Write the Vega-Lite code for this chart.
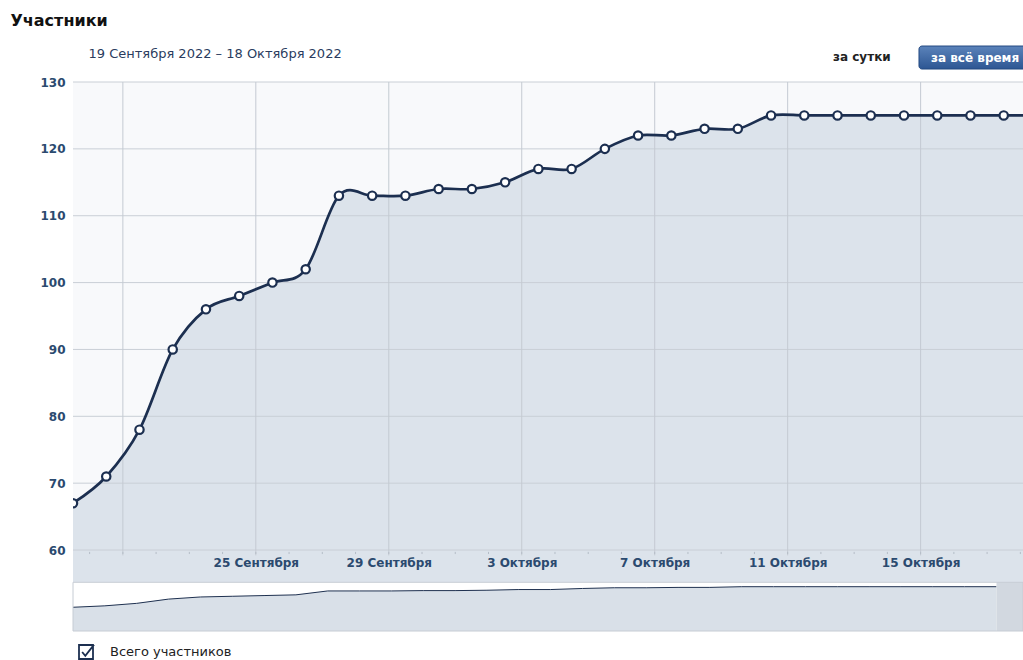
{
  "$schema": "https://vega.github.io/schema/vega-lite/v6.json",
  "width": 950,
  "height": 549,
  "autosize": {"type": "none"},
  "padding": {"left": 73, "top": 82, "right": 0, "bottom": 29},
  "background": "#ffffff",
  "config": {"view": {"stroke": null}, "font": "DejaVu Sans"},
  "datasets": {
    "members": [
      {"date": "2022-09-19T12:00:00", "value": 67},
      {"date": "2022-09-20T12:00:00", "value": 71},
      {"date": "2022-09-21T12:00:00", "value": 78},
      {"date": "2022-09-22T12:00:00", "value": 90},
      {"date": "2022-09-23T12:00:00", "value": 96},
      {"date": "2022-09-24T12:00:00", "value": 98},
      {"date": "2022-09-25T12:00:00", "value": 100},
      {"date": "2022-09-26T12:00:00", "value": 102},
      {"date": "2022-09-27T12:00:00", "value": 113},
      {"date": "2022-09-28T12:00:00", "value": 113},
      {"date": "2022-09-29T12:00:00", "value": 113},
      {"date": "2022-09-30T12:00:00", "value": 114},
      {"date": "2022-10-01T12:00:00", "value": 114},
      {"date": "2022-10-02T12:00:00", "value": 115},
      {"date": "2022-10-03T12:00:00", "value": 117},
      {"date": "2022-10-04T12:00:00", "value": 117},
      {"date": "2022-10-05T12:00:00", "value": 120},
      {"date": "2022-10-06T12:00:00", "value": 122},
      {"date": "2022-10-07T12:00:00", "value": 122},
      {"date": "2022-10-08T12:00:00", "value": 123},
      {"date": "2022-10-09T12:00:00", "value": 123},
      {"date": "2022-10-10T12:00:00", "value": 125},
      {"date": "2022-10-11T12:00:00", "value": 125},
      {"date": "2022-10-12T12:00:00", "value": 125},
      {"date": "2022-10-13T12:00:00", "value": 125},
      {"date": "2022-10-14T12:00:00", "value": 125},
      {"date": "2022-10-15T12:00:00", "value": 125},
      {"date": "2022-10-16T12:00:00", "value": 125},
      {"date": "2022-10-17T12:00:00", "value": 125},
      {"date": "2022-10-18T12:00:00", "value": 125}
    ],
    "majorTicks": [
      {"date": "2022-09-21T00:00:00"},
      {"date": "2022-09-25T00:00:00"},
      {"date": "2022-09-29T00:00:00"},
      {"date": "2022-10-03T00:00:00"},
      {"date": "2022-10-07T00:00:00"},
      {"date": "2022-10-11T00:00:00"},
      {"date": "2022-10-15T00:00:00"}
    ],
    "days": [
      {"date": "2022-09-20T00:00:00"}, {"date": "2022-09-21T00:00:00"}, {"date": "2022-09-22T00:00:00"},
      {"date": "2022-09-23T00:00:00"}, {"date": "2022-09-24T00:00:00"}, {"date": "2022-09-25T00:00:00"},
      {"date": "2022-09-26T00:00:00"}, {"date": "2022-09-27T00:00:00"}, {"date": "2022-09-28T00:00:00"},
      {"date": "2022-09-29T00:00:00"}, {"date": "2022-09-30T00:00:00"}, {"date": "2022-10-01T00:00:00"},
      {"date": "2022-10-02T00:00:00"}, {"date": "2022-10-03T00:00:00"}, {"date": "2022-10-04T00:00:00"},
      {"date": "2022-10-05T00:00:00"}, {"date": "2022-10-06T00:00:00"}, {"date": "2022-10-07T00:00:00"},
      {"date": "2022-10-08T00:00:00"}, {"date": "2022-10-09T00:00:00"}, {"date": "2022-10-10T00:00:00"},
      {"date": "2022-10-11T00:00:00"}, {"date": "2022-10-12T00:00:00"}, {"date": "2022-10-13T00:00:00"},
      {"date": "2022-10-14T00:00:00"}, {"date": "2022-10-15T00:00:00"}, {"date": "2022-10-16T00:00:00"},
      {"date": "2022-10-17T00:00:00"}, {"date": "2022-10-18T00:00:00"}
    ],
    "levels": [
      {"level": 60}, {"level": 70}, {"level": 80}, {"level": 90},
      {"level": 100}, {"level": 110}, {"level": 120}, {"level": 130}
    ]
  },
  "layer": [
    {
      "layer": [
        {
          "data": {"values": [{}]},
          "mark": {"type": "rect", "fill": "#f8f9fb"},
          "encoding": {
            "x": {"datum": {"year": 2022, "month": 9, "date": 19, "hours": 12}, "type": "temporal",
              "scale": {"domain": [{"year": 2022, "month": 9, "date": 19, "hours": 12}, {"year": 2022, "month": 10, "date": 18, "hours": 1, "minutes": 55}], "nice": false},
              "axis": {"orient": "bottom", "offset": -81, "zindex": 1, "values": [{"year": 2022, "month": 9, "date": 25}, {"year": 2022, "month": 9, "date": 29}, {"year": 2022, "month": 10, "date": 3}, {"year": 2022, "month": 10, "date": 7}, {"year": 2022, "month": 10, "date": 11}, {"year": 2022, "month": 10, "date": 15}], "labelExpr": "date(datum.value) + (month(datum.value) == 8 ? ' Сентября' : ' Октября')", "ticks": false, "domain": false, "grid": false, "title": null, "labelPadding": 7, "labelFont": "DejaVu Sans", "labelFontSize": 12, "labelFontWeight": "bold", "labelColor": "#2b4a6f", "labelOverlap": false, "labelFlush": false, "labelBound": false}},
            "x2": {"datum": {"year": 2022, "month": 10, "date": 18, "hours": 1, "minutes": 55}},
            "y": {"datum": 130, "type": "quantitative",
              "scale": {"domain": [47.89, 130], "nice": false, "zero": false},
              "axis": {"values": [60, 70, 80, 90, 100, 110, 120, 130], "ticks": false, "domain": false, "grid": false, "labelPadding": 8, "labelFont": "DejaVu Sans", "labelFontSize": 12, "labelFontWeight": "bold", "labelColor": "#2b4a6f", "title": "Участники", "titleAngle": 0, "titleAlign": "left", "titleBaseline": "alphabetic", "titleX": -63, "titleY": -57, "titleFont": "DejaVu Sans", "titleFontSize": 16, "titleFontWeight": "bold", "titleColor": "#111111"}},
            "y2": {"datum": 60}
          }
        },
        {
          "data": {"name": "members"},
          "mark": {"type": "area", "fill": "#dce3eb", "interpolate": "cardinal", "clip": true},
          "encoding": {
            "x": {"field": "date", "type": "temporal",
              "scale": {"domain": [{"year": 2022, "month": 9, "date": 19, "hours": 12}, {"year": 2022, "month": 10, "date": 18, "hours": 1, "minutes": 55}], "nice": false},
              "axis": {"orient": "bottom", "offset": -81, "zindex": 1, "values": [{"year": 2022, "month": 9, "date": 25}, {"year": 2022, "month": 9, "date": 29}, {"year": 2022, "month": 10, "date": 3}, {"year": 2022, "month": 10, "date": 7}, {"year": 2022, "month": 10, "date": 11}, {"year": 2022, "month": 10, "date": 15}], "labelExpr": "date(datum.value) + (month(datum.value) == 8 ? ' Сентября' : ' Октября')", "ticks": false, "domain": false, "grid": false, "title": null, "labelPadding": 7, "labelFont": "DejaVu Sans", "labelFontSize": 12, "labelFontWeight": "bold", "labelColor": "#2b4a6f", "labelOverlap": false, "labelFlush": false, "labelBound": false}},
            "y": {"field": "value", "type": "quantitative",
              "scale": {"domain": [47.89, 130], "nice": false, "zero": false},
              "axis": {"values": [60, 70, 80, 90, 100, 110, 120, 130], "ticks": false, "domain": false, "grid": false, "labelPadding": 8, "labelFont": "DejaVu Sans", "labelFontSize": 12, "labelFontWeight": "bold", "labelColor": "#2b4a6f", "title": "Участники", "titleAngle": 0, "titleAlign": "left", "titleBaseline": "alphabetic", "titleX": -63, "titleY": -57, "titleFont": "DejaVu Sans", "titleFontSize": 16, "titleFontWeight": "bold", "titleColor": "#111111"}},
            "y2": {"datum": 55.2}
          }
        },
        {
          "data": {"name": "levels"},
          "mark": {"type": "rule", "stroke": "#c9cfd6", "strokeWidth": 1},
          "encoding": {
            "x": {"datum": {"year": 2022, "month": 9, "date": 19, "hours": 12}, "type": "temporal",
              "scale": {"domain": [{"year": 2022, "month": 9, "date": 19, "hours": 12}, {"year": 2022, "month": 10, "date": 18, "hours": 1, "minutes": 55}], "nice": false},
              "axis": {"orient": "bottom", "offset": -81, "zindex": 1, "values": [{"year": 2022, "month": 9, "date": 25}, {"year": 2022, "month": 9, "date": 29}, {"year": 2022, "month": 10, "date": 3}, {"year": 2022, "month": 10, "date": 7}, {"year": 2022, "month": 10, "date": 11}, {"year": 2022, "month": 10, "date": 15}], "labelExpr": "date(datum.value) + (month(datum.value) == 8 ? ' Сентября' : ' Октября')", "ticks": false, "domain": false, "grid": false, "title": null, "labelPadding": 7, "labelFont": "DejaVu Sans", "labelFontSize": 12, "labelFontWeight": "bold", "labelColor": "#2b4a6f", "labelOverlap": false, "labelFlush": false, "labelBound": false}},
            "x2": {"datum": {"year": 2022, "month": 10, "date": 18, "hours": 1, "minutes": 55}},
            "y": {"field": "level", "type": "quantitative",
              "scale": {"domain": [47.89, 130], "nice": false, "zero": false},
              "axis": {"values": [60, 70, 80, 90, 100, 110, 120, 130], "ticks": false, "domain": false, "grid": false, "labelPadding": 8, "labelFont": "DejaVu Sans", "labelFontSize": 12, "labelFontWeight": "bold", "labelColor": "#2b4a6f", "title": "Участники", "titleAngle": 0, "titleAlign": "left", "titleBaseline": "alphabetic", "titleX": -63, "titleY": -57, "titleFont": "DejaVu Sans", "titleFontSize": 16, "titleFontWeight": "bold", "titleColor": "#111111"}}
          }
        },
        {
          "data": {"name": "majorTicks"},
          "mark": {"type": "rule", "stroke": "#c4cad2", "strokeWidth": 1},
          "encoding": {
            "x": {"field": "date", "type": "temporal",
              "scale": {"domain": [{"year": 2022, "month": 9, "date": 19, "hours": 12}, {"year": 2022, "month": 10, "date": 18, "hours": 1, "minutes": 55}], "nice": false},
              "axis": {"orient": "bottom", "offset": -81, "zindex": 1, "values": [{"year": 2022, "month": 9, "date": 25}, {"year": 2022, "month": 9, "date": 29}, {"year": 2022, "month": 10, "date": 3}, {"year": 2022, "month": 10, "date": 7}, {"year": 2022, "month": 10, "date": 11}, {"year": 2022, "month": 10, "date": 15}], "labelExpr": "date(datum.value) + (month(datum.value) == 8 ? ' Сентября' : ' Октября')", "ticks": false, "domain": false, "grid": false, "title": null, "labelPadding": 7, "labelFont": "DejaVu Sans", "labelFontSize": 12, "labelFontWeight": "bold", "labelColor": "#2b4a6f", "labelOverlap": false, "labelFlush": false, "labelBound": false}},
            "y": {"datum": 59.2, "type": "quantitative",
              "scale": {"domain": [47.89, 130], "nice": false, "zero": false},
              "axis": {"values": [60, 70, 80, 90, 100, 110, 120, 130], "ticks": false, "domain": false, "grid": false, "labelPadding": 8, "labelFont": "DejaVu Sans", "labelFontSize": 12, "labelFontWeight": "bold", "labelColor": "#2b4a6f", "title": "Участники", "titleAngle": 0, "titleAlign": "left", "titleBaseline": "alphabetic", "titleX": -63, "titleY": -57, "titleFont": "DejaVu Sans", "titleFontSize": 16, "titleFontWeight": "bold", "titleColor": "#111111"}},
            "y2": {"datum": 130}
          }
        },
        {
          "data": {"name": "days"},
          "mark": {"type": "rule", "stroke": "#b5bdc7", "strokeWidth": 1},
          "encoding": {
            "x": {"field": "date", "type": "temporal",
              "scale": {"domain": [{"year": 2022, "month": 9, "date": 19, "hours": 12}, {"year": 2022, "month": 10, "date": 18, "hours": 1, "minutes": 55}], "nice": false},
              "axis": {"orient": "bottom", "offset": -81, "zindex": 1, "values": [{"year": 2022, "month": 9, "date": 25}, {"year": 2022, "month": 9, "date": 29}, {"year": 2022, "month": 10, "date": 3}, {"year": 2022, "month": 10, "date": 7}, {"year": 2022, "month": 10, "date": 11}, {"year": 2022, "month": 10, "date": 15}], "labelExpr": "date(datum.value) + (month(datum.value) == 8 ? ' Сентября' : ' Октября')", "ticks": false, "domain": false, "grid": false, "title": null, "labelPadding": 7, "labelFont": "DejaVu Sans", "labelFontSize": 12, "labelFontWeight": "bold", "labelColor": "#2b4a6f", "labelOverlap": false, "labelFlush": false, "labelBound": false}},
            "y": {"datum": 59.72, "type": "quantitative",
              "scale": {"domain": [47.89, 130], "nice": false, "zero": false},
              "axis": {"values": [60, 70, 80, 90, 100, 110, 120, 130], "ticks": false, "domain": false, "grid": false, "labelPadding": 8, "labelFont": "DejaVu Sans", "labelFontSize": 12, "labelFontWeight": "bold", "labelColor": "#2b4a6f", "title": "Участники", "titleAngle": 0, "titleAlign": "left", "titleBaseline": "alphabetic", "titleX": -63, "titleY": -57, "titleFont": "DejaVu Sans", "titleFontSize": 16, "titleFontWeight": "bold", "titleColor": "#111111"}},
            "y2": {"datum": 59.4}
          }
        },
        {
          "data": {"name": "members"},
          "mark": {"type": "line", "strokeWidth": 2.7, "interpolate": "cardinal", "clip": true},
          "encoding": {
            "x": {"field": "date", "type": "temporal",
              "scale": {"domain": [{"year": 2022, "month": 9, "date": 19, "hours": 12}, {"year": 2022, "month": 10, "date": 18, "hours": 1, "minutes": 55}], "nice": false},
              "axis": {"orient": "bottom", "offset": -81, "zindex": 1, "values": [{"year": 2022, "month": 9, "date": 25}, {"year": 2022, "month": 9, "date": 29}, {"year": 2022, "month": 10, "date": 3}, {"year": 2022, "month": 10, "date": 7}, {"year": 2022, "month": 10, "date": 11}, {"year": 2022, "month": 10, "date": 15}], "labelExpr": "date(datum.value) + (month(datum.value) == 8 ? ' Сентября' : ' Октября')", "ticks": false, "domain": false, "grid": false, "title": null, "labelPadding": 7, "labelFont": "DejaVu Sans", "labelFontSize": 12, "labelFontWeight": "bold", "labelColor": "#2b4a6f", "labelOverlap": false, "labelFlush": false, "labelBound": false}},
            "y": {"field": "value", "type": "quantitative",
              "scale": {"domain": [47.89, 130], "nice": false, "zero": false},
              "axis": {"values": [60, 70, 80, 90, 100, 110, 120, 130], "ticks": false, "domain": false, "grid": false, "labelPadding": 8, "labelFont": "DejaVu Sans", "labelFontSize": 12, "labelFontWeight": "bold", "labelColor": "#2b4a6f", "title": "Участники", "titleAngle": 0, "titleAlign": "left", "titleBaseline": "alphabetic", "titleX": -63, "titleY": -57, "titleFont": "DejaVu Sans", "titleFontSize": 16, "titleFontWeight": "bold", "titleColor": "#111111"}},
            "color": {"datum": "Всего участников", "type": "nominal",
              "scale": {"range": ["#1c2f50"]},
              "legend": {"orient": "none", "legendX": 5, "legendY": 562, "title": null, "padding": 0,
                "symbolType": "M-1,-1H1V1H-1Z M-0.55,0.0 L-0.1,0.55 L1.15,-1.05",
                "symbolSize": 196, "symbolStrokeWidth": 1.8, "symbolStrokeColor": "#24375a", "symbolFillColor": "transparent",
                "labelFont": "DejaVu Sans", "labelFontSize": 13, "labelColor": "#222222", "labelOffset": 16}}
          }
        },
        {
          "data": {"name": "members"},
          "mark": {"type": "point", "filled": true, "fill": "#ffffff", "stroke": "#1c2f50", "strokeWidth": 2.2, "size": 70, "opacity": 1, "clip": true},
          "encoding": {
            "x": {"field": "date", "type": "temporal",
              "scale": {"domain": [{"year": 2022, "month": 9, "date": 19, "hours": 12}, {"year": 2022, "month": 10, "date": 18, "hours": 1, "minutes": 55}], "nice": false},
              "axis": {"orient": "bottom", "offset": -81, "zindex": 1, "values": [{"year": 2022, "month": 9, "date": 25}, {"year": 2022, "month": 9, "date": 29}, {"year": 2022, "month": 10, "date": 3}, {"year": 2022, "month": 10, "date": 7}, {"year": 2022, "month": 10, "date": 11}, {"year": 2022, "month": 10, "date": 15}], "labelExpr": "date(datum.value) + (month(datum.value) == 8 ? ' Сентября' : ' Октября')", "ticks": false, "domain": false, "grid": false, "title": null, "labelPadding": 7, "labelFont": "DejaVu Sans", "labelFontSize": 12, "labelFontWeight": "bold", "labelColor": "#2b4a6f", "labelOverlap": false, "labelFlush": false, "labelBound": false}},
            "y": {"field": "value", "type": "quantitative",
              "scale": {"domain": [47.89, 130], "nice": false, "zero": false},
              "axis": {"values": [60, 70, 80, 90, 100, 110, 120, 130], "ticks": false, "domain": false, "grid": false, "labelPadding": 8, "labelFont": "DejaVu Sans", "labelFontSize": 12, "labelFontWeight": "bold", "labelColor": "#2b4a6f", "title": "Участники", "titleAngle": 0, "titleAlign": "left", "titleBaseline": "alphabetic", "titleX": -63, "titleY": -57, "titleFont": "DejaVu Sans", "titleFontSize": 16, "titleFontWeight": "bold", "titleColor": "#111111"}}
          }
        },
        {
          "data": {"values": [{}]},
          "mark": {"type": "text", "align": "left", "baseline": "middle", "font": "DejaVu Sans", "fontSize": 12, "fontWeight": "bold", "color": "#222222"},
          "encoding": {
            "x": {"datum": {"year": 2022, "month": 10, "date": 12, "hours": 8, "minutes": 44}, "type": "temporal",
              "scale": {"domain": [{"year": 2022, "month": 9, "date": 19, "hours": 12}, {"year": 2022, "month": 10, "date": 18, "hours": 1, "minutes": 55}], "nice": false},
              "axis": {"orient": "bottom", "offset": -81, "zindex": 1, "values": [{"year": 2022, "month": 9, "date": 25}, {"year": 2022, "month": 9, "date": 29}, {"year": 2022, "month": 10, "date": 3}, {"year": 2022, "month": 10, "date": 7}, {"year": 2022, "month": 10, "date": 11}, {"year": 2022, "month": 10, "date": 15}], "labelExpr": "date(datum.value) + (month(datum.value) == 8 ? ' Сентября' : ' Октября')", "ticks": false, "domain": false, "grid": false, "title": null, "labelPadding": 7, "labelFont": "DejaVu Sans", "labelFontSize": 12, "labelFontWeight": "bold", "labelColor": "#2b4a6f", "labelOverlap": false, "labelFlush": false, "labelBound": false}},
            "y": {"datum": 133.74, "type": "quantitative",
              "scale": {"domain": [47.89, 130], "nice": false, "zero": false},
              "axis": {"values": [60, 70, 80, 90, 100, 110, 120, 130], "ticks": false, "domain": false, "grid": false, "labelPadding": 8, "labelFont": "DejaVu Sans", "labelFontSize": 12, "labelFontWeight": "bold", "labelColor": "#2b4a6f", "title": "Участники", "titleAngle": 0, "titleAlign": "left", "titleBaseline": "alphabetic", "titleX": -63, "titleY": -57, "titleFont": "DejaVu Sans", "titleFontSize": 16, "titleFontWeight": "bold", "titleColor": "#111111"}},
            "text": {"value": "за сутки"}
          }
        },
        {
          "data": {"values": [{}]},
          "mark": {"type": "rect", "cornerRadius": 3, "stroke": "#244a82", "strokeWidth": 1,
            "fill": {"gradient": "linear", "x1": 0, "y1": 0, "x2": 0, "y2": 1, "stops": [{"offset": 0, "color": "#5b83ba"}, {"offset": 1, "color": "#2d5693"}]}},
          "encoding": {
            "x": {"datum": {"year": 2022, "month": 10, "date": 14, "hours": 22, "minutes": 49}, "type": "temporal",
              "scale": {"domain": [{"year": 2022, "month": 9, "date": 19, "hours": 12}, {"year": 2022, "month": 10, "date": 18, "hours": 1, "minutes": 55}], "nice": false},
              "axis": {"orient": "bottom", "offset": -81, "zindex": 1, "values": [{"year": 2022, "month": 9, "date": 25}, {"year": 2022, "month": 9, "date": 29}, {"year": 2022, "month": 10, "date": 3}, {"year": 2022, "month": 10, "date": 7}, {"year": 2022, "month": 10, "date": 11}, {"year": 2022, "month": 10, "date": 15}], "labelExpr": "date(datum.value) + (month(datum.value) == 8 ? ' Сентября' : ' Октября')", "ticks": false, "domain": false, "grid": false, "title": null, "labelPadding": 7, "labelFont": "DejaVu Sans", "labelFontSize": 12, "labelFontWeight": "bold", "labelColor": "#2b4a6f", "labelOverlap": false, "labelFlush": false, "labelBound": false}},
            "x2": {"datum": {"year": 2022, "month": 10, "date": 19, "hours": 0}},
            "y": {"datum": 135.38, "type": "quantitative",
              "scale": {"domain": [47.89, 130], "nice": false, "zero": false},
              "axis": {"values": [60, 70, 80, 90, 100, 110, 120, 130], "ticks": false, "domain": false, "grid": false, "labelPadding": 8, "labelFont": "DejaVu Sans", "labelFontSize": 12, "labelFontWeight": "bold", "labelColor": "#2b4a6f", "title": "Участники", "titleAngle": 0, "titleAlign": "left", "titleBaseline": "alphabetic", "titleX": -63, "titleY": -57, "titleFont": "DejaVu Sans", "titleFontSize": 16, "titleFontWeight": "bold", "titleColor": "#111111"}},
            "y2": {"datum": 131.94}
          }
        },
        {
          "data": {"values": [{}]},
          "mark": {"type": "text", "align": "left", "baseline": "middle", "font": "DejaVu Sans", "fontSize": 12, "fontWeight": "bold", "color": "#ffffff"},
          "encoding": {
            "x": {"datum": {"year": 2022, "month": 10, "date": 15, "hours": 7, "minutes": 30}, "type": "temporal",
              "scale": {"domain": [{"year": 2022, "month": 9, "date": 19, "hours": 12}, {"year": 2022, "month": 10, "date": 18, "hours": 1, "minutes": 55}], "nice": false},
              "axis": {"orient": "bottom", "offset": -81, "zindex": 1, "values": [{"year": 2022, "month": 9, "date": 25}, {"year": 2022, "month": 9, "date": 29}, {"year": 2022, "month": 10, "date": 3}, {"year": 2022, "month": 10, "date": 7}, {"year": 2022, "month": 10, "date": 11}, {"year": 2022, "month": 10, "date": 15}], "labelExpr": "date(datum.value) + (month(datum.value) == 8 ? ' Сентября' : ' Октября')", "ticks": false, "domain": false, "grid": false, "title": null, "labelPadding": 7, "labelFont": "DejaVu Sans", "labelFontSize": 12, "labelFontWeight": "bold", "labelColor": "#2b4a6f", "labelOverlap": false, "labelFlush": false, "labelBound": false}},
            "y": {"datum": 133.66, "type": "quantitative",
              "scale": {"domain": [47.89, 130], "nice": false, "zero": false},
              "axis": {"values": [60, 70, 80, 90, 100, 110, 120, 130], "ticks": false, "domain": false, "grid": false, "labelPadding": 8, "labelFont": "DejaVu Sans", "labelFontSize": 12, "labelFontWeight": "bold", "labelColor": "#2b4a6f", "title": "Участники", "titleAngle": 0, "titleAlign": "left", "titleBaseline": "alphabetic", "titleX": -63, "titleY": -57, "titleFont": "DejaVu Sans", "titleFontSize": 16, "titleFontWeight": "bold", "titleColor": "#111111"}},
            "text": {"value": "за всё время"}
          }
        }
      ]
    },
    {
      "layer": [
        {
          "data": {"name": "members"},
          "mark": {"type": "area", "fill": "#d9e0e8", "opacity": 1, "line": {"stroke": "#1f3150", "strokeWidth": 1}},
          "encoding": {
            "x": {"field": "date", "type": "temporal",
              "scale": {"domain": [{"year": 2022, "month": 9, "date": 19, "hours": 12}, {"year": 2022, "month": 10, "date": 19, "hours": 8}], "nice": false},
              "axis": {"orient": "top", "labels": false, "ticks": false, "domain": false, "grid": false, "title": "19 Сентября 2022 – 18 Октября 2022", "titleX": 15, "titleY": -25, "titleAlign": "left", "titleBaseline": "alphabetic", "titleAngle": 0, "titleFont": "DejaVu Sans", "titleFontSize": 13, "titleFontWeight": "normal", "titleColor": "#2a3c5e"}},
            "y": {"field": "value", "type": "quantitative", "scale": {"domain": [0, 1549], "nice": false, "zero": true}, "axis": null}
          }
        },
        {
          "data": {"values": [{}]},
          "mark": {"type": "rect", "fill": "#d2d8e0"},
          "encoding": {
            "x": {"datum": {"year": 2022, "month": 10, "date": 18, "hours": 12}, "type": "temporal",
              "scale": {"domain": [{"year": 2022, "month": 9, "date": 19, "hours": 12}, {"year": 2022, "month": 10, "date": 19, "hours": 8}], "nice": false},
              "axis": {"orient": "top", "labels": false, "ticks": false, "domain": false, "grid": false, "title": "19 Сентября 2022 – 18 Октября 2022", "titleX": 15, "titleY": -25, "titleAlign": "left", "titleBaseline": "alphabetic", "titleAngle": 0, "titleFont": "DejaVu Sans", "titleFontSize": 13, "titleFontWeight": "normal", "titleColor": "#2a3c5e"}},
            "x2": {"datum": {"year": 2022, "month": 10, "date": 19, "hours": 8}},
            "y": {"datum": 0, "type": "quantitative", "scale": {"domain": [0, 1549], "nice": false, "zero": true}, "axis": null},
            "y2": {"datum": 137.4}
          }
        },
        {
          "data": {"values": [{}]},
          "mark": {"type": "rect", "fill": "transparent", "stroke": "#c6ccd4", "strokeWidth": 1},
          "encoding": {
            "x": {"datum": {"year": 2022, "month": 9, "date": 19, "hours": 12}, "type": "temporal",
              "scale": {"domain": [{"year": 2022, "month": 9, "date": 19, "hours": 12}, {"year": 2022, "month": 10, "date": 19, "hours": 8}], "nice": false},
              "axis": {"orient": "top", "labels": false, "ticks": false, "domain": false, "grid": false, "title": "19 Сентября 2022 – 18 Октября 2022", "titleX": 15, "titleY": -25, "titleAlign": "left", "titleBaseline": "alphabetic", "titleAngle": 0, "titleFont": "DejaVu Sans", "titleFontSize": 13, "titleFontWeight": "normal", "titleColor": "#2a3c5e"}},
            "x2": {"datum": {"year": 2022, "month": 10, "date": 19, "hours": 8}},
            "y": {"datum": 0, "type": "quantitative", "scale": {"domain": [0, 1549], "nice": false, "zero": true}, "axis": null},
            "y2": {"datum": 137.4}
          }
        }
      ]
    }
  ],
  "resolve": {
    "scale": {"x": "independent", "y": "independent", "color": "independent"},
    "axis": {"x": "independent", "y": "independent"}
  }
}
